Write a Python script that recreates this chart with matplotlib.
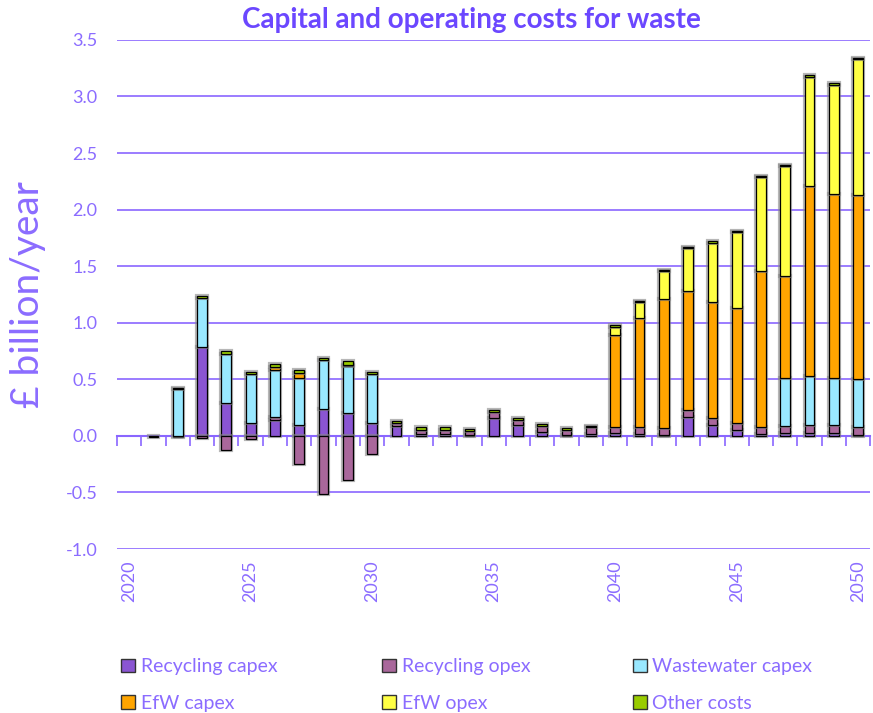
import numpy as np
import matplotlib
matplotlib.use("Agg")
import matplotlib.pyplot as plt
import matplotlib.patheffects as pe
from matplotlib.patches import Patch

years = list(range(2020, 2051))

# £ billion/year
rec_capex = [0, 0, 0, 0.785, 0.294, 0.115, 0.141, 0.094, 0.238, 0.2, 0.115,
             0.085, 0.015, 0.018, 0.005, 0.155, 0.094, 0.035, 0.006, 0.018,
             0.025, 0.02, 0.01, 0.17, 0.10, 0.05, 0.02, 0.025, 0.025, 0.025, 0.01]
rec_opex = [0, -0.01, -0.01, -0.02, -0.127, -0.03, 0.025, -0.25, -0.518, -0.386, -0.162,
            0.03, 0.04, 0.038, 0.04, 0.053, 0.047, 0.05, 0.05, 0.058,
            0.05, 0.06, 0.06, 0.06, 0.06, 0.06, 0.06, 0.06, 0.07, 0.07, 0.065]
ww_capex = [0, 0, 0.415, 0.43, 0.43, 0.432, 0.42, 0.42, 0.433, 0.418, 0.43,
            0, 0, 0, 0, 0, 0, 0, 0, 0,
            0, 0, 0, 0, 0, 0, 0, 0.43, 0.435, 0.42, 0.43]
efw_capex = [0, 0, 0, 0, 0, 0, 0.025, 0.04, 0, 0.01, 0,
             0, 0, 0, 0, 0, 0, 0, 0, 0,
             0.82, 0.965, 1.14, 1.05, 1.02, 1.02, 1.375, 0.90, 1.675, 1.625, 1.625]
efw_opex = [0, 0, 0, 0, 0, 0, 0, 0, 0, 0, 0,
            0, 0, 0, 0, 0, 0, 0, 0, 0,
            0.07, 0.135, 0.245, 0.38, 0.525, 0.67, 0.83, 0.97, 0.97, 0.965, 1.2]
other = [0, 0, 0.01, 0.018, 0.023, 0.018, 0.02, 0.03, 0.017, 0.03, 0.02,
         0.02, 0.02, 0.02, 0.013, 0.018, 0.02, 0.02, 0.018, 0.012,
         0.015, 0.01, 0.015, 0.01, 0.015, 0.015, 0.015, 0.012, 0.015, 0.015, 0.013]

series = [("Recycling capex", rec_capex, "#8A55D2"),
          ("Recycling opex", rec_opex, "#A9679B"),
          ("Wastewater capex", ww_capex, "#99E8FF"),
          ("EfW capex", efw_capex, "#FFA500"),
          ("EfW opex", efw_opex, "#FFFF44"),
          ("Other costs", other, "#99CC00")]

txt = "#8B6CFF"
grid = "#8A66FF"
plt.rcParams['font.family'] = ['Lato', 'DejaVu Sans']

fig = plt.figure(figsize=(8.73, 7.13), dpi=100)
ax = fig.add_axes([0.134, 0.23, 0.863, 0.714])

x = np.arange(len(years))
pos = np.zeros(len(years))
neg = np.zeros(len(years))
shadow = [pe.Stroke(linewidth=3, foreground="#888888", alpha=0.6), pe.Normal()]
handles = []
for name, vals, col in series:
    v = np.array(vals, dtype=float)
    bottom = np.where(v >= 0, pos, neg)
    bars = ax.bar(x, v, 0.4, bottom=bottom, color=col, edgecolor="black",
                  linewidth=0.9, zorder=3)
    for b in bars:
        if b.get_height() != 0:
            b.set_path_effects(shadow)
        else:
            b.set_visible(False)
    pos = pos + np.where(v >= 0, v, 0)
    neg = neg + np.where(v < 0, v, 0)
    handles.append(Patch(facecolor=col, edgecolor="#333333", linewidth=1, label=name))

ax.set_xlim(-0.5, len(years) - 0.5)
ax.set_ylim(-1.0, 3.5)
ax.set_yticks(np.arange(-1.0, 3.51, 0.5))
ax.set_yticklabels(["%.1f" % t for t in np.arange(-1.0, 3.51, 0.5)])
ax.yaxis.grid(True, color=grid, linewidth=1.2, zorder=0)
ax.set_axisbelow(True)
for s in ax.spines.values():
    s.set_visible(False)
ax.tick_params(axis="y", length=0, labelsize=13, labelcolor=txt, pad=14)

lab_idx = [i for i, y in enumerate(years) if y % 5 == 0]
ax.set_xticks(lab_idx)
ax.set_xticklabels([str(years[i]) for i in lab_idx], rotation=90)
ax.tick_params(axis="x", length=0, labelsize=13, labelcolor=txt, pad=8)

# category axis crossing at zero
sec = ax.secondary_xaxis(1.0 / 4.5)
sec.set_xticks(np.arange(-0.5, len(years), 1))
sec.set_xticklabels([])
sec.tick_params(axis="x", direction="out", length=7, color=grid, width=1.2)
sec.spines["bottom"].set_color(grid)
sec.spines["bottom"].set_linewidth(1.5)

ax.set_ylabel("£ billion/year", fontsize=28, color=txt, labelpad=14)

fig.text(0.54, 0.972, "Capital and operating costs for waste", ha="center",
         va="center", fontsize=20, fontweight="bold", color="#6B47FF")

# legend: three columns of two entries each
cols = [(0.139, [0, 3]), (0.438, [1, 4]), (0.725, [2, 5])]
for xpos, idx in cols:
    leg = fig.legend([handles[i] for i in idx], [series[i][0] for i in idx],
                     loc="lower left", bbox_to_anchor=(xpos, 0.002),
                     frameon=False, fontsize=14, handlelength=0.7,
                     handleheight=0.7, handletextpad=0.3, labelspacing=1.0,
                     borderaxespad=0, borderpad=0)
    for t in leg.get_texts():
        t.set_color(txt)

fig.savefig("out.png", dpi=100)
